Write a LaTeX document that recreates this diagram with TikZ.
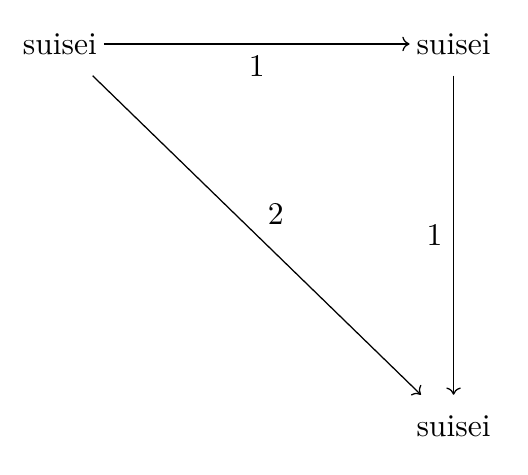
\documentclass[tikz,border=0pt]{standalone}
\usepackage{amsmath,amssymb}
\usepackage{tikz}
\usetikzlibrary{arrows.meta}

\begin{document}
\begin{tikzpicture}[x=1cm, y=1cm,
    obj/.style={inner xsep=2pt, inner ysep=6.5pt},
    mor/.style={-{Computer Modern Rightarrow[width=4.6pt,length=2.3pt]}}]
  \useasboundingbox (0,0) rectangle (5.873,-5.273);
  \pgfmathsetmacro{\xl}{0.667}
  \pgfmathsetmacro{\xr}{5.045}
  \pgfmathsetmacro{\yt}{-0.489}
  \pgfmathsetmacro{\yb}{-4.744}

  \node[obj] (src) at (\xl,\yt) {suisei};
  \node[obj] (mid) at (\xr,\yt) {suisei};
  \node[obj] (tgt) at (\xr,\yb) {suisei};

  \draw[mor] (src) -- node[below] {1} (mid);
  \draw[mor] (mid) -- node[left] {1} (tgt);
  \draw[mor] (src) -- node[above right] {2} (tgt);
\end{tikzpicture}
\end{document}
